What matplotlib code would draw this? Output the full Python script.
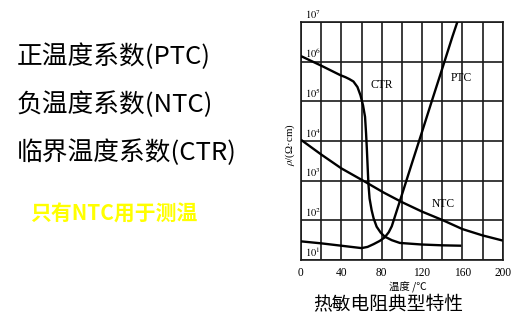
import numpy as np
import matplotlib
matplotlib.use("Agg")
import matplotlib.pyplot as plt

plt.rcParams['font.family'] = ['Noto Sans CJK SC', 'DejaVu Sans']
plt.rcParams['mathtext.fontset'] = 'stix'

# ---- data (temperature in deg C, resistivity in ohm*cm) ----
ptc_t = [0, 20, 40, 60, 66, 72, 78, 83, 87, 90, 100, 110, 120, 130, 140, 150, 157]
ptc_log = [1.47, 1.42, 1.36, 1.30, 1.33, 1.40, 1.48, 1.57, 1.70, 1.85, 2.64, 3.44, 4.23, 5.03, 5.82, 6.62, 7.15]
ptc_rho = [10 ** v for v in ptc_log]

ctr_t = [0, 20, 39, 44, 48, 52, 56, 59, 61.5, 63.5, 64.5, 65.3, 66.8, 68, 70, 72, 75, 79, 83, 90, 98, 120, 140, 159]
ctr_log = [6.14, 5.90, 5.66, 5.61, 5.56, 5.50, 5.36, 5.15, 4.90, 4.61, 4.20, 3.80, 2.94, 2.55, 2.26, 2.05,
           1.84, 1.69, 1.59, 1.50, 1.43, 1.39, 1.37, 1.36]
ctr_rho = [10 ** v for v in ctr_log]

ntc_t = [0, 20, 40, 63, 82, 100, 120, 140, 160, 180, 200]
ntc_log = [4.03, 3.66, 3.31, 2.98, 2.70, 2.46, 2.22, 2.01, 1.78, 1.62, 1.49]
ntc_rho = [10 ** v for v in ntc_log]

x_ticks = [0, 40, 80, 120, 160, 200]
x_grid = list(range(0, 201, 20))
y_decades = [1, 2, 3, 4, 5, 6, 7]

left_lines = ["正温度系数(PTC)", "负温度系数(NTC)", "临界温度系数(CTR)"]
note = "只有NTC用于测温"
caption = "热敏电阻典型特性"

# ---- figure ----
W, H = 532, 327
fig = plt.figure(figsize=(W / 100, H / 100), dpi=100)
ax = fig.add_axes([301 / W, 1 - 260 / H, 201.7 / W, 238 / H])
ax.set_yscale('log')
ax.set_xlim(0, 200)
ax.set_ylim(10 ** y_decades[0], 10 ** y_decades[-1])

for xv in x_grid:
    ax.axvline(xv, color='#1a1a1a', lw=1.2, zorder=1)
for d in y_decades:
    ax.axhline(10 ** d, color='#1a1a1a', lw=1.2, zorder=1)

for t, r in [(ptc_t, ptc_rho), (ctr_t, ctr_rho), (ntc_t, ntc_rho)]:
    ax.plot(t, r, color='black', lw=1.7, zorder=3, solid_capstyle='butt', solid_joinstyle='round')

for s in ax.spines.values():
    s.set_color('#1a1a1a')
    s.set_linewidth(1.2)

ax.set_xticks(x_ticks)
ax.set_xticklabels([str(v) for v in x_ticks], family='Liberation Serif', fontsize=8.3)
ax.tick_params(axis='x', length=0, pad=5)
ax.set_yticks([])
ax.yaxis.set_minor_locator(matplotlib.ticker.NullLocator())

for d in y_decades:
    ax.text(4, 10 ** d * 1.08, r'$10^{%d}$' % d, ha='left', va='bottom', fontsize=7.5,
            zorder=4, clip_on=False)

ax.text(80, 10 ** 5.41, 'CTR', ha='center', va='center', family='Liberation Serif', fontsize=8.3, zorder=4)
ax.text(159, 10 ** 5.6, 'PTC', ha='center', va='center', family='Liberation Serif', fontsize=8.3, zorder=4)
ax.text(141, 10 ** 2.41, 'NTC', ha='center', va='center', family='Liberation Serif', fontsize=8.3, zorder=4)

ax.text(-0.055, 0.483, r'$\rho$/(Ω·cm)', transform=ax.transAxes, rotation=90,
        ha='center', va='center', fontsize=7.8, family=['Liberation Serif', 'DejaVu Sans'])

fig.text(408 / W, 1 - 287 / H, '温度 /℃', ha='center', va='center', fontsize=7.5)

fig.text(388 / W, 1 - 305 / H, caption, ha='center', va='center', fontsize=13.5)

ys = [56.7, 105, 153]
for s, y in zip(left_lines, ys):
    fig.text(17 / W, 1 - y / H, s, ha='left', va='center', fontsize=18.5)

fig.text(30 / W, 1 - 214 / H, note, ha='left', va='center', fontsize=15,
         fontweight='bold', color='#FFFF00')

fig.savefig('out.png', dpi=100)
